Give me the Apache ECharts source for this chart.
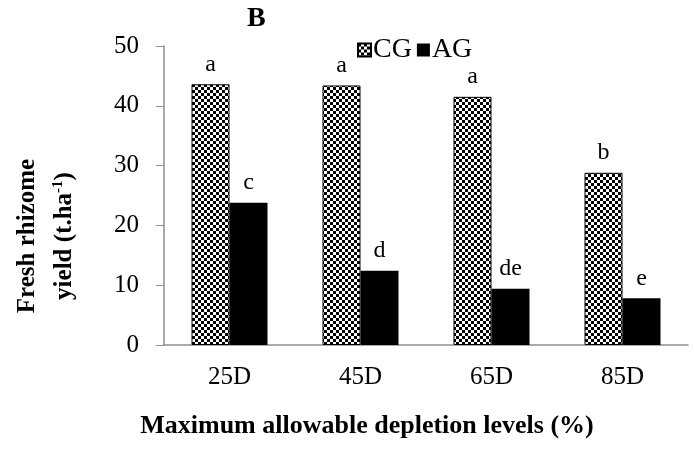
<!DOCTYPE html>
<html>
<head>
<meta charset="utf-8">
<script src="https://cdn.jsdelivr.net/npm/echarts@6/dist/echarts.min.js"></script>
<style>
  html, body { margin: 0; padding: 0; background: #fff; }
  #chart { width: 694px; height: 449px; }
</style>
</head>
<body>
<div id="chart"></div>
<script>
// data
const categories = ["25D", "45D", "65D", "85D"];
const cgValues = [43.6, 43.4, 41.5, 28.8];
const agValues = [23.8, 12.4, 9.4, 7.8];
const cgLetters = ["a", "a", "a", "b"];
const agLetters = ["c", "d", "de", "e"];
const yTicks = { min: 0, max: 50, interval: 10 };

const serif = "Liberation Serif";
const axisGray = "#8f8f8f";

// checkerboard fill for CG bars
const makeChecker = () => {
  const c = document.createElement("canvas");
  c.width = 6;
  c.height = 6;
  const ctx = c.getContext("2d");
  ctx.fillStyle = "#fff";
  ctx.fillRect(0, 0, 6, 6);
  ctx.fillStyle = "#000";
  ctx.fillRect(0, 0, 3, 3);
  ctx.fillRect(3, 3, 3, 3);
  return c;
};
const checker = { image: makeChecker(), repeat: "repeat" };

const chart = echarts.init(document.getElementById("chart"));

const letterLabel = (letters) => ({
  show: true,
  position: "top",
  distance: 8,
  fontFamily: serif,
  fontSize: 24,
  color: "#000",
  formatter: (p) => letters[p.dataIndex],
});

const option = {
  animation: false,
  grid: { left: 164, right: 6, top: 46, bottom: 104 },
  legend: {
    left: 352,
    top: 31,
    icon: "rect",
    itemWidth: 13,
    itemHeight: 13,
    itemGap: 5,
    textStyle: { fontFamily: serif, fontSize: 28, color: "#000", padding: [0, 0, 0, -3] },
    data: ["CG", "AG"],
  },
  xAxis: {
    type: "category",
    data: categories,
    axisLine: { lineStyle: { color: axisGray, width: 1.5 } },
    axisTick: { length: 7, lineStyle: { color: axisGray } },
    axisLabel: { fontFamily: serif, fontSize: 25, color: "#000", margin: 20 },
  },
  yAxis: {
    type: "value",
    min: yTicks.min,
    max: yTicks.max,
    interval: yTicks.interval,
    axisLine: { show: true, lineStyle: { color: axisGray, width: 1.5 } },
    axisTick: { show: true, length: 8, lineStyle: { color: axisGray } },
    splitLine: { show: false },
    axisLabel: { fontFamily: serif, fontSize: 25, color: "#000", margin: 25 },
  },
  series: [
    {
      name: "CG",
      type: "bar",
      data: cgValues,
      barWidth: 38,
      barGap: "0%",
      itemStyle: { color: checker, borderColor: "#000", borderWidth: 1 },
      label: letterLabel(cgLetters),
    },
    {
      name: "AG",
      type: "bar",
      data: agValues,
      barWidth: 38,
      itemStyle: { color: "#000" },
      label: letterLabel(agLetters),
    },
  ],
  graphic: [
    {
      type: "text",
      left: 247,
      top: 5,
      style: { text: "B", fontFamily: serif, fontWeight: "bold", fontSize: 28, fill: "#000" },
    },
    {
      type: "text",
      x: 46,
      y: 236,
      rotation: Math.PI / 2,
      style: {
        text: "Fresh rhizome\nyield (t.ha{sup|-1})",
        fontFamily: serif,
        fontWeight: "bold",
        fontSize: 25,
        lineHeight: 37,
        fill: "#000",
        align: "center",
        verticalAlign: "middle",
        rich: {
          sup: { fontFamily: serif, fontWeight: "bold", fontSize: 15, padding: [0, 0, 12, 0] },
        },
      },
    },
    {
      type: "text",
      x: 367,
      y: 426,
      style: {
        text: "Maximum allowable depletion levels (%)",
        fontFamily: serif,
        fontWeight: "bold",
        fontSize: 26,
        fill: "#000",
        align: "center",
        verticalAlign: "middle",
      },
    },
  ],
};

option && chart.setOption(option);
</script>
</body>
</html>
